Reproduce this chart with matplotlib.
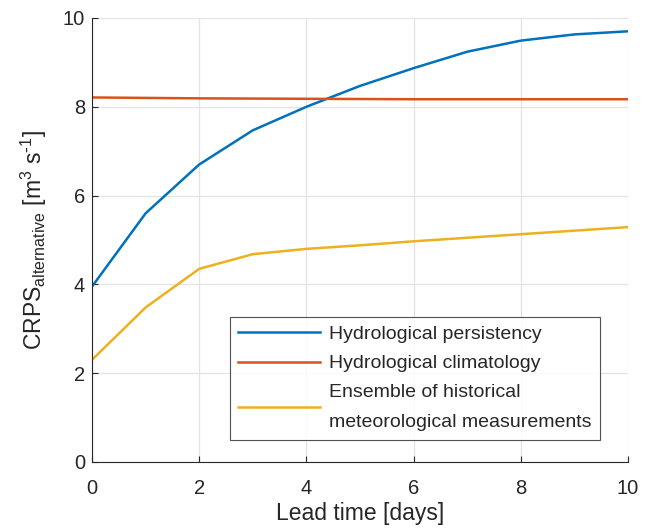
import matplotlib
matplotlib.use("Agg")
import matplotlib.pyplot as plt
import numpy as np

lead_time = np.arange(0, 11)
persistency = [3.95, 5.6, 6.7, 7.47, 8.0, 8.47, 8.87, 9.24, 9.49, 9.63, 9.7]
climatology = [8.21, 8.2, 8.19, 8.185, 8.18, 8.175, 8.17, 8.17, 8.17, 8.17, 8.17]
ensemble = [2.3, 3.48, 4.35, 4.68, 4.8, 4.88, 4.97, 5.05, 5.13, 5.21, 5.29]

labels = ["Hydrological persistency", "Hydrological climatology",
          "Ensemble of historical\nmeteorological measurements"]
colors = ["#0072BD", "#D95319", "#EDB120"]

plt.rcParams["font.family"] = ["Liberation Sans", "DejaVu Sans"]
plt.rcParams["mathtext.default"] = "regular"

fig = plt.figure(figsize=(6.51, 5.32), dpi=100)
ax = fig.add_axes([0.1413, 0.1316, 0.8234, 0.8346])

for series, lab, col in zip([persistency, climatology, ensemble], labels, colors):
    ax.plot(lead_time, series, color=col, linewidth=1.8, label=lab)

ax.set_xlim(0, 10)
ax.set_ylim(0, 10)
ax.set_xticks(np.arange(0, 11, 2))
ax.set_yticks(np.arange(0, 11, 2))
ax.grid(True, color="#e3e3e3", linewidth=0.9)
ax.set_axisbelow(True)
for side in ["top", "right"]:
    ax.spines[side].set_visible(False)
for side in ["left", "bottom"]:
    ax.spines[side].set_color("#262626")
    ax.spines[side].set_linewidth(0.8)
ax.tick_params(direction="in", length=4, width=0.8, colors="#262626",
               labelsize=14.5)
ax.tick_params(axis="x", pad=12)
ax.tick_params(axis="y", pad=5)

ax.set_xlabel("Lead time [days]", fontsize=16.5, color="#262626", labelpad=3)
ax.set_ylabel(r"CRPS$_{alternative}$ [m$^{3}$ s$^{\text{-}1}$]", fontsize=16.5,
              color="#262626", labelpad=10)

leg = ax.legend(loc="lower right", bbox_to_anchor=(0.948, 0.05), fontsize=14,
                frameon=True, fancybox=False, edgecolor="#262626",
                handlelength=4.2, handletextpad=0.45, borderpad=0.45,
                labelspacing=0.6, borderaxespad=0)
leg.get_frame().set_linewidth(0.8)
for t in leg.get_texts():
    t.set_color("#262626")
    t.set_linespacing(2.0)

fig.savefig("out.png", dpi=100)
